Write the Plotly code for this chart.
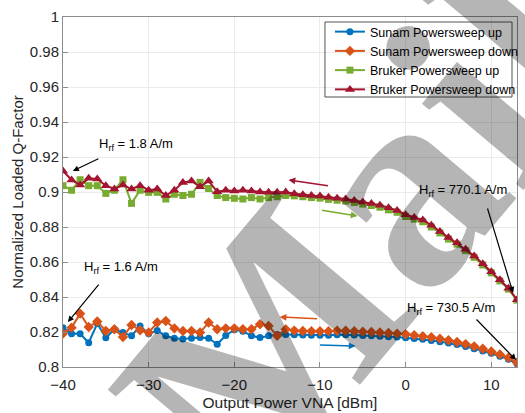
import plotly.graph_objects as go

power = list(range(-40, 14))

sunam_up = [0.8225, 0.819, 0.819, 0.8139, 0.8248, 0.8167, 0.8215, 0.8197, 0.8178, 0.8235,
            0.819, 0.8208, 0.8178, 0.8165, 0.816, 0.8165, 0.8168, 0.8165, 0.813, 0.818,
            0.8213, 0.8205, 0.8178, 0.8168, 0.8178, 0.8186, 0.8186,
            0.8185, 0.8183, 0.8182, 0.8181, 0.8182, 0.8184, 0.8185, 0.8183, 0.818, 0.8179,
            0.8176, 0.8173, 0.8171, 0.8167, 0.8163, 0.8158, 0.8152, 0.8145, 0.8137, 0.8128,
            0.8117, 0.8105, 0.8092, 0.8078, 0.8062, 0.8044, 0.8018]

sunam_down = [0.8191, 0.8225, 0.8305, 0.8229, 0.826, 0.8206, 0.8216, 0.8171, 0.824, 0.821,
              0.8197, 0.8254, 0.8263, 0.8221, 0.8206, 0.8206, 0.8197, 0.8254, 0.8216, 0.8221,
              0.8221, 0.8216, 0.8216, 0.8244, 0.8235, 0.8178, 0.8216,
              0.8208, 0.8206, 0.8205, 0.8204, 0.8205, 0.8207, 0.8207, 0.8205, 0.8202, 0.82,
              0.8197, 0.8194, 0.8191, 0.8187, 0.8182, 0.8176, 0.817, 0.8162, 0.8153, 0.8143,
              0.8131, 0.8118, 0.8104, 0.8089, 0.8072, 0.8053, 0.8025]

bruker_up = [0.9036, 0.901, 0.907, 0.9036, 0.9036, 0.8992, 0.901, 0.907, 0.8935, 0.901,
             0.8998, 0.8998, 0.896, 0.8987, 0.898, 0.8987, 0.9055, 0.902, 0.898, 0.8968,
             0.8964, 0.896, 0.8968, 0.896, 0.8968, 0.8973, 0.898,
             0.8978, 0.8973, 0.8968, 0.8965, 0.8958, 0.8953, 0.8948, 0.894, 0.8931, 0.8923,
             0.8913, 0.8898, 0.8884, 0.886, 0.8845, 0.883, 0.88, 0.8766, 0.8731, 0.8702,
             0.8665, 0.8627, 0.8583, 0.8538, 0.8492, 0.8445, 0.8382]

bruker_down = [0.912, 0.9069, 0.904, 0.9078, 0.9074, 0.9036, 0.9017, 0.904, 0.9017, 0.9036,
               0.901, 0.9017, 0.898, 0.901, 0.9055, 0.9063, 0.903, 0.9063, 0.9002, 0.901,
               0.9006, 0.901, 0.9006, 0.9, 0.8998, 0.8998, 0.9,
               0.899, 0.8985, 0.898, 0.8977, 0.897, 0.8965, 0.896, 0.8952, 0.8943, 0.8935,
               0.8925, 0.891, 0.8895, 0.887, 0.8855, 0.884, 0.881, 0.8775, 0.874, 0.871,
               0.8673, 0.8635, 0.859, 0.8545, 0.8498, 0.845, 0.8385]

series_names = ["Sunam Powersweep up", "Sunam Powersweep down",
                "Bruker Powersweep up", "Bruker Powersweep down"]
colors = ["#0072BD", "#D95319", "#77AC30", "#A2142F"]
symbols = ["circle", "diamond", "square", "triangle-up"]
sizes = [7, 8, 7, 9]

x_ticks = [-40, -30, -20, -10, 0, 10]
y_ticks = [0.8, 0.82, 0.84, 0.86, 0.88, 0.9, 0.92, 0.94, 0.96, 0.98, 1.0]
y_ticklabels = ["0.8", "0.82", "0.84", "0.86", "0.88", "0.9", "0.92", "0.94", "0.96", "0.98", "1"]

FONT = "Liberation Sans, Arial, sans-serif"
TXT = "#262626"

fig = go.Figure()
for name, vals, c, s, sz in zip(series_names, [sunam_up, sunam_down, bruker_up, bruker_down],
                                colors, symbols, sizes):
    fig.add_trace(go.Scatter(x=power, y=vals, mode="lines+markers", name=name,
                             line=dict(color=c, width=2),
                             marker=dict(symbol=s, size=sz, color=c, line=dict(width=0))))

annotations = []
black = [
    (-38.85, 0.912, 27, -13, -35.98, 0.9269, "H<sub>rf</sub> = 1.8 A/m"),
    (-39.43, 0.8257, 32, -39, -37.82, 0.8566, "H<sub>rf</sub> = 1.6 A/m"),
    (12.54, 0.8423, -26, -86, 1.27, 0.9006, "H<sub>rf</sub> = 770.1 A/m"),
    (12.89, 0.804, -41, -42, -0.1, 0.8337, "H<sub>rf</sub> = 730.5 A/m"),
]
for hx, hy, ax, ay, tx, ty, t in black:
    annotations.append(dict(x=hx, y=hy, ax=ax, ay=ay, xref="x", yref="y", text="",
                            showarrow=True, arrowhead=2, arrowsize=1, arrowwidth=1.2,
                            arrowcolor="black"))
    annotations.append(dict(x=tx, y=ty, xref="x", yref="y", text=t, showarrow=False,
                            xanchor="left", yanchor="middle",
                            font=dict(family=FONT, size=13, color="black")))

colored = [
    (-13.67, 0.9069, 41, 6, "#A2142F"),
    (-5.62, 0.8863, -37, -6, "#77AC30"),
    (-14.71, 0.8286, 39, 2, "#D95319"),
    (-5.85, 0.812, -37, -1, "#0072BD"),
]
for hx, hy, ax, ay, c in colored:
    annotations.append(dict(x=hx, y=hy, ax=ax, ay=ay, xref="x", yref="y", text="",
                            showarrow=True, arrowhead=2, arrowsize=0.9, arrowwidth=1.5,
                            arrowcolor=c))

# watermark
annotations.append(dict(x=0.659, y=0.389, xref="paper", yref="paper", text="<b>Mail</b>",
                        showarrow=False, textangle=-50, xanchor="center", yanchor="middle",
                        font=dict(family="Liberation Serif, serif", size=290,
                                  color="rgba(0,0,0,0.29)")))

# legend box outline
legend_box = dict(type="rect", xref="paper", yref="paper", x0=0.577, x1=0.989,
                  y0=0.7714, y1=0.9857, fillcolor="rgba(0,0,0,0)",
                  line=dict(color="#262626", width=0.8), layer="above")

fig.update_layout(
    width=525, height=413,
    margin=dict(l=63, r=1, t=17, b=46),
    paper_bgcolor="white", plot_bgcolor="white",
    font=dict(family=FONT, size=14, color=TXT),
    showlegend=True,
    legend=dict(x=0.588, y=1.0, xanchor="left", yanchor="top",
                bgcolor="rgba(0,0,0,0)", borderwidth=0,
                font=dict(family=FONT, size=12.5, color="black"),
                tracegroupgap=0, itemwidth=30),
    shapes=[legend_box],
    annotations=annotations,
)
fig.update_xaxes(range=[-40, 13], tickvals=x_ticks, showgrid=True, gridcolor="#ebebeb",
                 showline=True, linecolor="#8c8c8c", linewidth=1, mirror=True,
                 ticks="inside", ticklen=5, tickcolor="#8c8c8c", zeroline=False,
                 ticklabelstandoff=4,
                 tickfont=dict(size=15, color=TXT),
                 title=dict(text="Output Power VNA [dBm]", font=dict(size=15.5, color=TXT), standoff=5))
fig.update_yaxes(range=[0.8, 1.0], tickvals=y_ticks, ticktext=y_ticklabels,
                 showgrid=True, gridcolor="#ebebeb",
                 showline=True, linecolor="#8c8c8c", linewidth=1, mirror=True,
                 ticks="inside", ticklen=5, tickcolor="#8c8c8c", zeroline=False,
                 tickfont=dict(size=15, color=TXT),
                 title=dict(text="Normalized Loaded Q-Factor", font=dict(size=15, color=TXT), standoff=2))

fig.write_html("out.html")
